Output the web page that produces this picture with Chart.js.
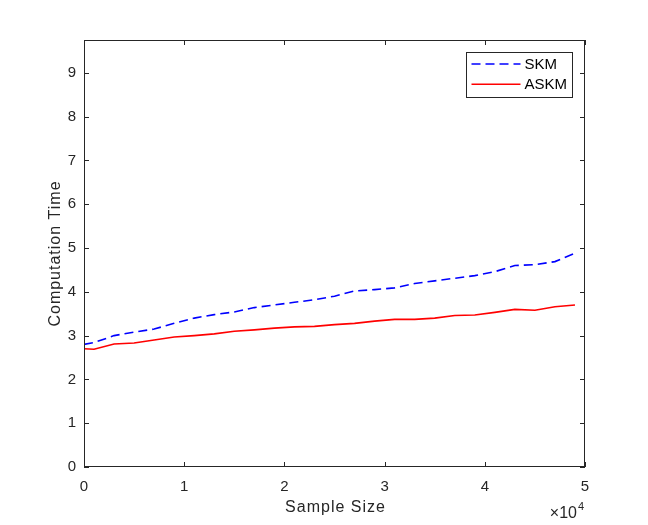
<!DOCTYPE html>
<html>
<head>
<meta charset="utf-8">
<script src="https://cdn.jsdelivr.net/npm/chart.js@4/dist/chart.umd.min.js"></script>
<style>
  html, body { margin: 0; padding: 0; background: #ffffff; }
  #wrap { width: 648px; height: 525px; }
</style>
</head>
<body>
<div id="wrap"><canvas id="c" width="648" height="525"></canvas></div>
<script>
// ---- Data ----
const sampleSizes = [0, 1000, 3000, 5000, 7000, 9000, 11000, 13000, 15000, 17000, 19000, 21000, 23000,
                     25000, 27000, 29000, 31000, 33000, 35000, 37000, 39000, 41000, 43000, 45000, 47000, 49000];
const skmTimes  = [2.80, 2.84, 3.00, 3.08, 3.15, 3.28, 3.40, 3.48, 3.54, 3.64, 3.70, 3.76, 3.82,
                   3.90, 4.02, 4.05, 4.09, 4.19, 4.25, 4.31, 4.37, 4.46, 4.60, 4.62, 4.69, 4.88];
const askmTimes = [2.70, 2.69, 2.81, 2.83, 2.90, 2.97, 3.00, 3.04, 3.10, 3.13, 3.17, 3.20, 3.21,
                   3.25, 3.28, 3.33, 3.37, 3.37, 3.40, 3.46, 3.47, 3.53, 3.60, 3.58, 3.66, 3.70];
const seriesNames = ["SKM", "ASKM"];
const xTitle = "Sample Size";
const yTitle = "Computation Time";
const xExponentBase = "\u00d710";
const xExponent = "4";

const AX = '#262626';
const FONT = '"Liberation Sans", Arial, Helvetica, sans-serif';

const toXY = (xs, ys) => xs.map((x, i) => ({ x: x, y: ys[i] }));

const matlabPlugin = {
  id: 'matlabDecor',
  afterDraw(chart) {
    const ctx = chart.ctx;
    const a = chart.chartArea;
    const xs = chart.scales.x, ys = chart.scales.y;
    ctx.save();
    // box
    ctx.strokeStyle = AX;
    ctx.lineWidth = 1;
    ctx.strokeRect(Math.round(a.left) + 0.5, Math.round(a.top) + 0.5,
                   Math.round(a.right - a.left) - 1, Math.round(a.bottom - a.top) - 1);
    // inward tick marks
    const TL = 5;
    ctx.beginPath();
    xs.ticks.forEach(t => {
      const px = Math.round(xs.getPixelForValue(t.value)) + 0.5;
      ctx.moveTo(px, a.bottom); ctx.lineTo(px, a.bottom - TL);
      ctx.moveTo(px, a.top); ctx.lineTo(px, a.top + TL);
    });
    ys.ticks.forEach(t => {
      const py = Math.round(ys.getPixelForValue(t.value)) + 0.5;
      ctx.moveTo(a.left, py); ctx.lineTo(a.left + TL, py);
      ctx.moveTo(a.right, py); ctx.lineTo(a.right - TL, py);
    });
    ctx.stroke();

    // axis titles
    ctx.fillStyle = AX;
    ctx.font = '16px ' + FONT;
    try { ctx.letterSpacing = '1px'; } catch (e) {}
    ctx.textAlign = 'center';
    ctx.textBaseline = 'alphabetic';
    ctx.fillText(xTitle, (a.left + a.right) / 2 + 1, a.bottom + 45);
    ctx.save();
    ctx.translate(a.left - 24.5, (a.top + a.bottom) / 2);
    ctx.rotate(-Math.PI / 2);
    ctx.fillText(yTitle, 0, 0);
    ctx.restore();
    try { ctx.letterSpacing = '0px'; } catch (e) {}

    // x10^4 exponent label
    ctx.textAlign = 'right';
    ctx.font = '16px ' + FONT;
    ctx.fillText(xExponentBase, a.right - 8, a.bottom + 51);
    ctx.textAlign = 'left';
    ctx.font = '11px ' + FONT;
    ctx.fillText(xExponent, a.right - 7, a.bottom + 43);

    // legend
    const lx = 466.5, ly = 52.5, lw = 106, lh = 45;
    ctx.fillStyle = '#ffffff';
    ctx.fillRect(lx, ly, lw, lh);
    ctx.strokeStyle = AX;
    ctx.lineWidth = 1;
    ctx.strokeRect(lx, ly, lw, lh);
    chart.data.datasets.forEach((ds, i) => {
      const yy = ly + 11.5 + i * 20.3;
      ctx.save();
      ctx.strokeStyle = ds.borderColor;
      ctx.lineWidth = ds.borderWidth;
      ctx.setLineDash(ds.borderDash || []);
      ctx.beginPath();
      ctx.moveTo(lx + 5, yy);
      ctx.lineTo(lx + 54, yy);
      ctx.stroke();
      ctx.restore();
      ctx.fillStyle = '#000000';
      ctx.font = '15px ' + FONT;
      ctx.textAlign = 'left';
      ctx.textBaseline = 'middle';
      ctx.fillText(ds.label, lx + 58, yy + 1);
    });
    ctx.restore();
  }
};

new Chart(document.getElementById('c'), {
  type: 'line',
  data: {
    datasets: [
      {
        label: seriesNames[0],
        data: toXY(sampleSizes, skmTimes),
        borderColor: '#0000ff',
        borderWidth: 1.6,
        borderDash: [9, 5],
        pointRadius: 0,
        fill: false,
        tension: 0
      },
      {
        label: seriesNames[1],
        data: toXY(sampleSizes, askmTimes),
        borderColor: '#ff0000',
        borderWidth: 1.6,
        pointRadius: 0,
        fill: false,
        tension: 0
      }
    ]
  },
  options: {
    responsive: false,
    animation: false,
    events: [],
    layout: { padding: { left: 0, top: 40, right: 63, bottom: 0 } },
    plugins: { legend: { display: false }, tooltip: { enabled: false } },
    scales: {
      x: {
        type: 'linear',
        min: 0, max: 50000,
        grid: { display: false, drawTicks: false },
        border: { display: false },
        ticks: {
          stepSize: 10000,
          color: AX,
          font: { size: 15, family: FONT },
          padding: 11,
          maxRotation: 0,
          callback: v => String(v / 10000)
        },
        afterFit: s => { s.height = 58; }
      },
      y: {
        min: 0, max: 9.75,
        grid: { display: false, drawTicks: false },
        border: { display: false },
        ticks: {
          stepSize: 1,
          includeBounds: false,
          color: AX,
          font: { size: 15, family: FONT },
          padding: 8
        },
        afterFit: s => { s.width = 84; }
      }
    }
  },
  plugins: [matlabPlugin]
});
</script>
</body>
</html>
